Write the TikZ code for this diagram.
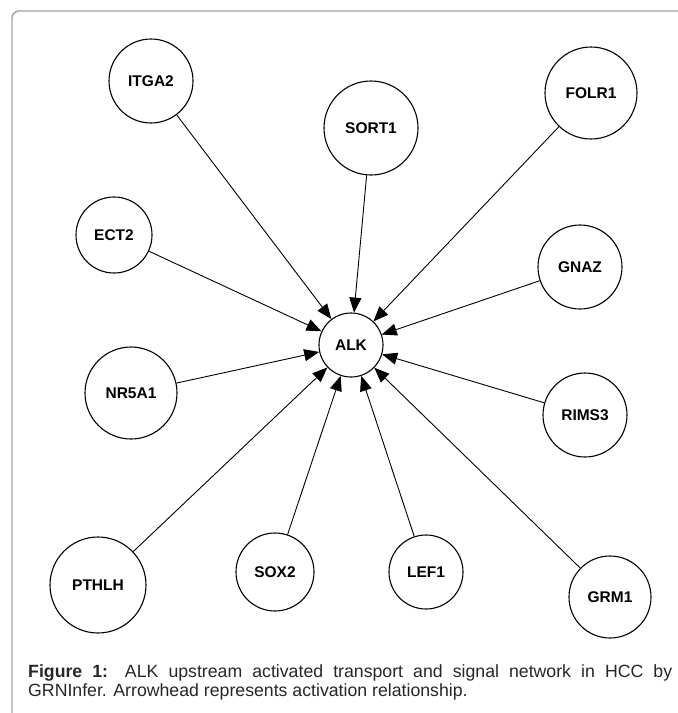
\documentclass[tikz,border=0pt]{standalone}
\usepackage{fontspec}
\setmainfont{Liberation Sans}
\usepackage{xcolor}
\usetikzlibrary{arrows.meta, positioning}
\definecolor{framegray}{HTML}{A3A3A3}

\begin{document}
\begin{tikzpicture}[x=1pt, y=-1pt,
  gene/.style={circle, draw=black, line width=1.1pt, inner sep=0pt,
    font=\fontsize{15.5}{15.5}\selectfont\bfseries},
  act/.style={draw=black, line width=0.9pt, -{Triangle[length=15pt, width=12pt]}}
]
  \useasboundingbox (0,0) rectangle (678,713);
  \draw[framegray, line width=1.4pt, rounded corners=7pt] (12,713) -- (12,11) -- (678,11);

  \node[gene, minimum size=84pt] (itga2) at (151, 81) {ITGA2};
  \node[gene, minimum size=94pt] (sort1) at (371, 128) {SORT1};
  \node[gene, minimum size=92pt] (folr1) at (591, 93) {FOLR1};
  \node[gene, minimum size=76pt] (ect2) at (114, 235) {ECT2};
  \node[gene, minimum size=84pt] (gnaz) at (580, 267) {GNAZ};
  \node[gene, minimum size=64pt] (alk) at (351, 345) {ALK};
  \node[gene, minimum size=92pt] (nr5a1) at (131, 393) {NR5A1};
  \node[gene, minimum size=84pt] (rims3) at (585, 415) {RIMS3};
  \node[gene, minimum size=96pt] (pthlh) at (98, 585) {PTHLH};
  \node[gene, minimum size=78pt] (sox2) at (275, 572) {SOX2};
  \node[gene, minimum size=74pt] (lef1) at (426, 572) {LEF1};
  \node[gene, minimum size=82pt] (grm1) at (610, 597) {GRM1};

  \draw[act] (itga2) -- (alk);
  \draw[act] (sort1) -- (alk);
  \draw[act] (folr1) -- (alk);
  \draw[act] (ect2) -- (alk);
  \draw[act] (gnaz) -- (alk);
  \draw[act] (nr5a1) -- (alk);
  \draw[act] (rims3) -- (alk);
  \draw[act] (pthlh) -- (alk);
  \draw[act] (sox2) -- (alk);
  \draw[act] (lef1) -- (alk);
  \draw[act] (grm1) -- (alk);

  \node[anchor=north west, inner sep=0pt, text width=644pt, align=justify,
    font=\fontsize{17.7}{19}\selectfont, text=black!85] (caption) at (28, 664)
    {\textbf{Figure 1:} ALK upstream activated transport and signal network in HCC by\linebreak GRNInfer. Arrowhead represents activation relationship.};
\end{tikzpicture}
\end{document}
